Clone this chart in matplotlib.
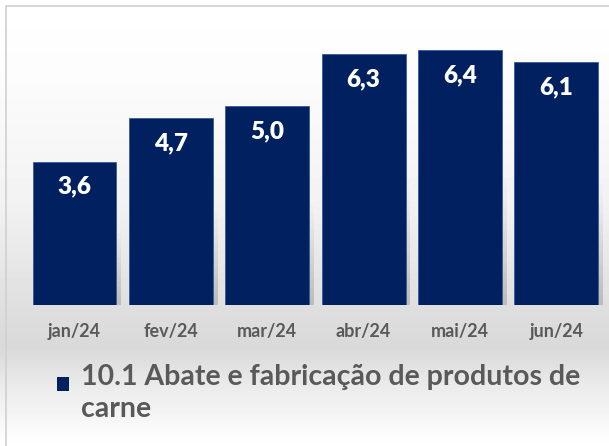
import matplotlib.pyplot as plt
import numpy as np
from matplotlib.patches import Rectangle

# data
months = ["jan/24", "fev/24", "mar/24", "abr/24", "mai/24", "jun/24"]
values = [3.6, 4.7, 5.0, 6.3, 6.4, 6.1]
series_name = "10.1 Abate e fabricação de produtos de\ncarne"

navy = "#002060"
grey_txt = "#595959"
font = "Lato"

W, H = 609, 446
fig = plt.figure(figsize=(W / 100, H / 100), dpi=100)

# background gradient: white at top, grey near the axis labels, back to white at the bottom
bg = fig.add_axes([0, 0, 1, 1], zorder=0)
rows = np.linspace(0, 1, 446)
knots_y = [0.0, 0.15, 0.45, 0.70, 0.78, 0.88, 1.0]
knots_v = [1.0, 0.99, 0.95, 0.87, 0.85, 0.93, 1.0]
shade = np.interp(rows, knots_y, knots_v)
img = np.repeat(shade[:, None], 2, axis=1)
bg.imshow(img, cmap="gray", vmin=0, vmax=1, aspect="auto", extent=[0, 1, 0, 1])
bg.set_axis_off()

# chart frame (runs off the right and bottom edges)
fig.patches.append(Rectangle((6 / W, -0.05), 1.1, 1 - 6 / H + 0.05, transform=fig.transFigure,
                             fill=False, edgecolor="#d0d0d0", linewidth=1.2, zorder=1))

# plot area in pixels
left, right = 26.3, 604.5
base, px_per_unit = 305, 39.8
ymax = 7.0
ax = fig.add_axes([left / W, (H - base) / H, (right - left) / W, ymax * px_per_unit / H], zorder=2)
ax.patch.set_alpha(0)

x = np.arange(len(months))
# faint shadow to the right of each bar, fading upwards
for xi, v in zip(x, values):
    top = v * 0.5
    for k in range(12):
        ax.bar(xi + 0.05, top * (1 - k / 12), width=0.87, color="black", alpha=0.012,
               linewidth=0, zorder=1)
bars = ax.bar(x, values, width=0.87, color=navy, edgecolor="#3a5a9a", linewidth=0.6, zorder=3)

for xi, v in zip(x, values):
    ax.annotate(f"{v:.1f}".replace(".", ","), (xi, v), xytext=(0, -18), textcoords="offset points",
                ha="center", va="center", color="white", fontsize=17.5, fontweight="heavy",
                family=font, zorder=4)

ax.set_xlim(-0.5, len(months) - 0.5)
ax.set_ylim(0, ymax)
ax.set_xticks(x)
ax.set_xticklabels(months, fontsize=13, fontweight="bold", color=grey_txt, family=font)
ax.tick_params(axis="x", length=0, pad=13)
ax.set_yticks([])
for s in ax.spines.values():
    s.set_visible(False)

# legend drawn by hand so the marker sits on the first line
fig.patches.append(Rectangle((57 / W, 1 - 391 / H), 12 / W, 14 / H, transform=fig.transFigure,
                             facecolor=navy, edgecolor="none", zorder=3))
fig.text(81 / W, 1 - 364 / H, series_name, ha="left", va="top", fontsize=20.5, fontweight="bold",
         color=grey_txt, family=font, linespacing=1.3, zorder=3)

fig.savefig("out.png", dpi=100)
